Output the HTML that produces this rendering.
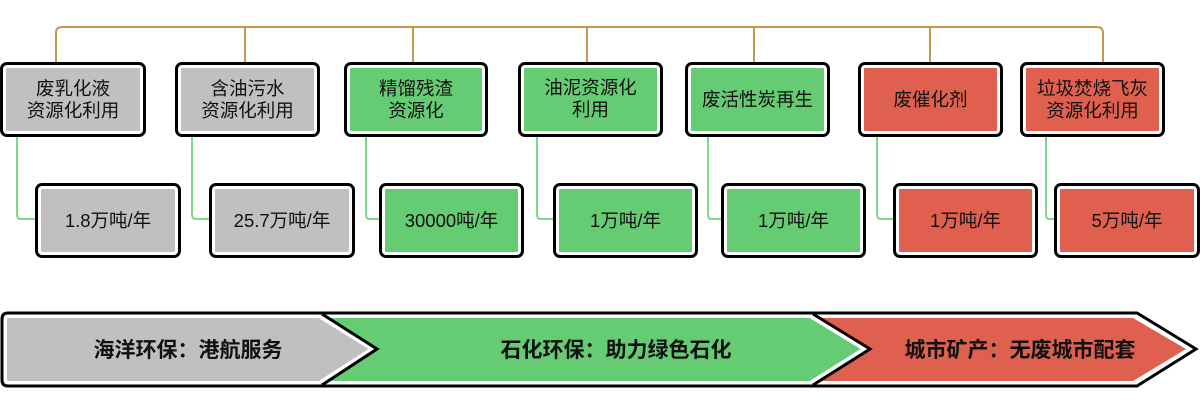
<!DOCTYPE html>
<html><head><meta charset="utf-8"><style>
body{margin:0;width:1200px;height:420px;background:#fff;position:relative;overflow:hidden;font-family:"Liberation Sans","Noto Sans CJK SC",sans-serif;}
.b{position:absolute;box-sizing:border-box;border:3px solid #000;border-radius:7px;box-shadow:inset 0 0 0 3px #fff;display:flex;align-items:center;justify-content:center;text-align:center;font-size:18.5px;line-height:22px;color:#111;}
.g{background:#c0c0c0}.gr{background:#66cc73}.r{background:#e06050}
svg{position:absolute;left:0;top:0}
</style></head><body>
<svg width="1200" height="420">
<g fill="none" stroke="#c49a4a" stroke-width="2">
<path d="M56 62 V33 Q56 27 62 27 H1097 Q1103 27 1103 33 V62"/>
<path d="M245 27V62M413 27V62M587 27V62M754 27V62M930 27V62"/>
</g>
<g fill="none" stroke="#7fd88a" stroke-width="2">
<path d="M17 136V215Q17 219 21 219H36"/>
<path d="M192 136V215Q192 219 196 219H210"/>
<path d="M366 136V215Q366 219 370 219H381"/>
<path d="M537 136V215Q537 219 541 219H554"/>
<path d="M708 136V215Q708 219 712 219H722"/>
<path d="M877 136V215Q877 219 881 219H894"/>
<path d="M1046 136V215Q1046 219 1050 219H1055"/>
</g>
<g stroke="#000" stroke-width="3" stroke-linejoin="miter">
<path d="M8 313H1137L1196 349L1137 386H8Q2 386 2 380V319Q2 313 8 313Z" fill="#fff"/>
</g>
<path d="M9 318H320L370 349L320 381H9Q7 381 7 379V320Q7 318 9 318Z" fill="#c0c0c0"/>
<path d="M328 318H812L862 349L812 381H328L376 349Z" fill="#66cc73"/>
<path d="M820 318H1133L1186 349L1133 381H820L870 349Z" fill="#e06050"/>
<g fill="none" stroke="#000" stroke-width="3">
<path d="M322 314L377 349L322 385"/>
<path d="M813 314L870 349L813 385"/>
</g>
<g fill="none" stroke="#fff" stroke-width="1.5">
<path d="M320 318L370 349L320 381"/>
<path d="M811 318L862 349L811 381"/>
</g>
<g font-family="Liberation Sans,Noto Sans CJK SC,sans-serif" font-size="21" font-weight="bold" fill="#111" text-anchor="middle">
<text x="188" y="357">海洋环保：港航服务</text>
<text x="616" y="357">石化环保：助力绿色石化</text>
<text x="1020" y="357">城市矿产：无废城市配套</text>
</g>
</svg>
<div class="b g" style="left:0;top:62px;width:146px;height:75px">废乳化液<br>资源化利用</div>
<div class="b g" style="left:175px;top:62px;width:145px;height:75px">含油污水<br>资源化利用</div>
<div class="b gr" style="left:344px;top:62px;width:144px;height:75px">精馏残渣<br>资源化</div>
<div class="b gr" style="left:518px;top:62px;width:145px;height:75px;align-items:flex-start;padding-top:12px">油泥资源化<br>利用</div>
<div class="b gr" style="left:685px;top:62px;width:145px;height:75px">废活性炭再生</div>
<div class="b r" style="left:858px;top:62px;width:145px;height:75px">废催化剂</div>
<div class="b r" style="left:1020px;top:62px;width:145px;height:75px">垃圾焚烧飞灰<br>资源化利用</div>
<div class="b g" style="left:35px;top:183px;width:146px;height:75px">1.8万吨/年</div>
<div class="b g" style="left:209px;top:183px;width:146px;height:75px">25.7万吨/年</div>
<div class="b gr" style="left:379px;top:183px;width:145px;height:75px">30000吨/年</div>
<div class="b gr" style="left:553px;top:183px;width:145px;height:75px">1万吨/年</div>
<div class="b gr" style="left:721px;top:183px;width:145px;height:75px">1万吨/年</div>
<div class="b r" style="left:893px;top:183px;width:145px;height:75px">1万吨/年</div>
<div class="b r" style="left:1054px;top:183px;width:146px;height:75px">5万吨/年</div>
</body></html>
